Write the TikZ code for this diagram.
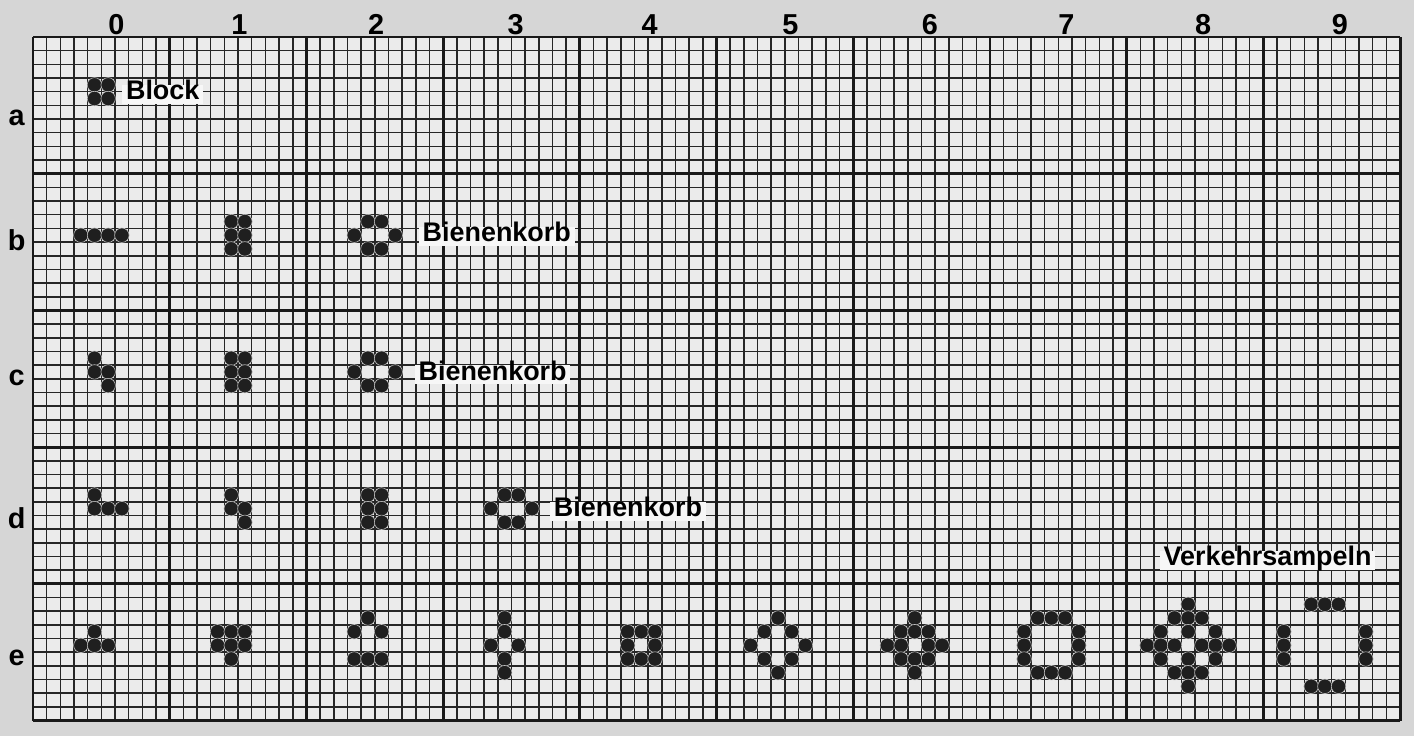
\documentclass[tikz,border=0pt]{standalone}
\usepackage{fontspec}
\setmainfont{Liberation Sans}
\usepackage{tikz}

% one generation: column, row, list of live cells (local x/y)
\newcommand{\lifecells}[3]{%
  \foreach \i/\j in {#3}
    \fill[dot] (10*#1+\i+0.5, 10*#2+\j+0.5) circle (0.53);}

\begin{document}
\begin{tikzpicture}[x=0.25cm, y=-0.25cm,
    fine/.style={line width=0.8pt, black!85},
    major/.style={line width=1.5pt, black!90},
    dot/.style={fill=black!88, draw=black!25, line width=0.3pt},
    tag/.style={fill=black!3, anchor=west, inner xsep=2pt, inner ysep=0pt,
                text height=0.78em, text depth=0.22em,
                font=\fontsize{14}{17}\selectfont\bfseries},
    idx/.style={font=\fontsize{15}{18}\selectfont\bfseries}]

    % paper
    \fill[black!16] (-2.414,-2.707) rectangle (101.02,51.13);
    \useasboundingbox (-2.414,-2.707) rectangle (101.02,51.13);
    \fill[black!8] (0,0) rectangle (100,50);

    % fine grid
    \foreach \k in {0,...,100} \draw[fine] (\k,0) -- (\k,50);
    \foreach \k in {0,...,50} \draw[fine] (0,\k) -- (100,\k);

    % generations and rows
    \foreach \k in {0,10,...,100} \draw[major] (\k,0) -- (\k,50);
    \foreach \k in {0,10,...,50} \draw[major] (0,\k) -- (100,\k);

    % column numbers
    \foreach \c/\x in {0/6.1,1/15.1,2/25.1,3/35.3,4/45.1,5/55.4,6/65.6,7/75.6,8/85.6,9/95.6}
        \node[idx] (col\c) at (\x,-0.9) {\c};

    % row letters
    \foreach \t/\y in {a/5.9,b/14.9,c/24.9,d/35.2,e/45.4}
        \node[idx] (row\t) at (-1.2,\y) {\t};

    % row a
    \lifecells{0}{0}{4/3,5/3,4/4,5/4}
    \node[tag] (block) at (6.5,4.2) {Block};

    % row b
    \lifecells{0}{1}{3/4,4/4,5/4,6/4}
    \lifecells{1}{1}{4/3,5/3,4/4,5/4,4/5,5/5}
    \lifecells{2}{1}{4/3,5/3,3/4,6/4,4/5,5/5}
    \node[tag] (korbb) at (28.2,14.6) {Bienenkorb};

    % row c
    \lifecells{0}{2}{4/3,4/4,5/4,5/5}
    \lifecells{1}{2}{4/3,5/3,4/4,5/4,4/5,5/5}
    \lifecells{2}{2}{4/3,5/3,3/4,6/4,4/5,5/5}
    \node[tag] (korbc) at (27.9,24.7) {Bienenkorb};

    % row d
    \lifecells{0}{3}{4/3,4/4,5/4,6/4}
    \lifecells{1}{3}{4/3,4/4,5/4,5/5}
    \lifecells{2}{3}{4/3,5/3,4/4,5/4,4/5,5/5}
    \lifecells{3}{3}{4/3,5/3,3/4,6/4,4/5,5/5}
    \node[tag] (korbd) at (37.8,34.7) {Bienenkorb};

    % row e
    \lifecells{0}{4}{4/3,3/4,4/4,5/4}
    \lifecells{1}{4}{3/3,4/3,5/3,3/4,4/4,5/4,4/5}
    \lifecells{2}{4}{4/2,3/3,5/3,3/5,4/5,5/5}
    \lifecells{3}{4}{4/2,4/3,3/4,5/4,4/5,4/6}
    \lifecells{4}{4}{3/3,4/3,5/3,3/4,5/4,3/5,4/5,5/5}
    \lifecells{5}{4}{4/2,3/3,5/3,2/4,6/4,3/5,5/5,4/6}
    \lifecells{6}{4}{4/2,3/3,4/3,5/3,2/4,3/4,5/4,6/4,3/5,4/5,5/5,4/6}
    \lifecells{7}{4}{3/2,4/2,5/2,2/3,6/3,2/4,6/4,2/5,6/5,3/6,4/6,5/6}
    \lifecells{8}{4}{4/1,3/2,4/2,5/2,2/3,4/3,6/3,1/4,2/4,3/4,5/4,6/4,7/4,2/5,4/5,6/5,3/6,4/6,5/6,4/7}
    \lifecells{9}{4}{3/1,4/1,5/1,1/3,1/4,1/5,7/3,7/4,7/5,3/7,4/7,5/7}
    \node[tag] (ampeln) at (82.4,38.3) {Verkehrsampeln};

\end{tikzpicture}
\end{document}
